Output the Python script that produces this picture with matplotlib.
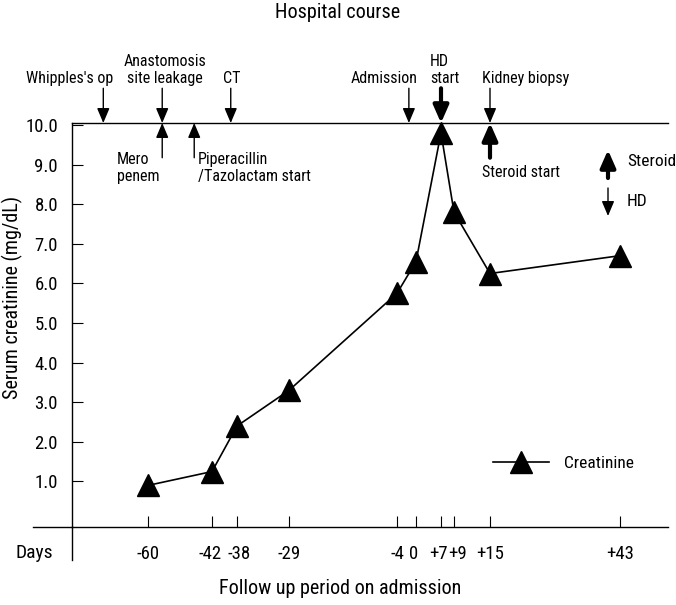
import numpy as np
import matplotlib
matplotlib.use('Agg')
import matplotlib.pyplot as plt
from matplotlib.lines import Line2D
from matplotlib.transforms import ScaledTranslation

plt.rcParams['font.family'] = ['Liberation Sans Narrow', 'Roboto Condensed', 'Roboto', 'DejaVu Sans']
plt.rcParams['font.stretch'] = 'condensed'

# ---------------- data ----------------
days = [-60, -42, -38, -29, -4, 0, 7, 9, 15, 43]
creatinine = [0.9, 1.25, 2.4, 3.3, 5.75, 6.55, 9.8, 7.8, 6.25, 6.7]
day_labels = ['-60', '-42', '-38', '-29', '-4', '0', '+7', '+9', '+15', '+43']
y_ticks = [1.0, 2.0, 3.0, 4.0, 5.0, 6.0, 7.0, 8.0, 9.0, 10.0]
y_tick_labels = ['1.0', '2.0', '3.0', '4.0', '5.0', '6.0', '7.0', '8.0', '9.0', '10.0']

events_above = ["Whipples's op", 'Anastomosis\nsite leakage', 'CT', 'Admission', 'HD\nstart', 'Kidney biopsy']
events_above_days = [-70, -56, -39, -1.5, 7, 15]
events_below = ['Mero\npenem', 'Piperacillin\n/Tazolactam start', 'Steroid start']
events_below_days = [-56, -47, 15]

# ---------------- layout ----------------
W, H = 676, 605
fig = plt.figure(figsize=(W / 100, H / 100), dpi=100)


def fp(x, y):
    return (x / W, 1 - y / H)


ax_l, ax_r, ax_t, ax_b = 72, 668, 123, 527
ax = fig.add_axes([ax_l / W, 1 - ax_b / H, (ax_r - ax_l) / W, (ax_b - ax_t) / H])

# non-linear (broken) day axis
anchor_days = [-77, -60, -42, -38, -29, -4, 0, 7, 9, 15, 43, 53.3]
anchor_pos = [0, 76, 140, 165, 217, 325, 344, 369, 382, 418, 548, 596]


def fwd(x):
    return np.interp(x, anchor_days, anchor_pos)


def inv(p):
    return np.interp(p, anchor_pos, anchor_days)


ax.set_xscale('function', functions=(fwd, inv))
ax.set_xlim(anchor_days[0], anchor_days[-1])
ax.set_ylim(-0.15, 10.05)

line, = ax.plot(days, creatinine, color='black', lw=1.2, marker='^', ms=16,
                markerfacecolor='black', markeredgecolor='black', clip_on=False,
                label='Creatinine', zorder=5)

ax.set_xticks(days)
ax.set_xticklabels(day_labels)
ax.set_yticks(y_ticks)
ax.set_yticklabels(y_tick_labels)
ax.xaxis.set_minor_locator(matplotlib.ticker.NullLocator())
ax.tick_params(axis='both', direction='in', length=8, width=0.8, labelsize=13.5)
ax.tick_params(axis='y', pad=10)
ax.tick_params(axis='x', pad=13)

# nudge crowded day labels apart (pixels)
label_nudge = {'-42': -2, '-38': 2, '0': -2, '+7': -3, '+9': 4}
for lbl in ax.get_xticklabels():
    dx = label_nudge.get(lbl.get_text(), 0)
    if dx:
        lbl.set_transform(lbl.get_transform() + ScaledTranslation(dx / 100, 0, fig.dpi_scale_trans))

for s in ['top', 'left', 'bottom']:
    ax.spines[s].set_linewidth(1.0)
ax.spines['right'].set_visible(False)

# axis extensions
fig.add_artist(Line2D([33 / W, ax_l / W], [1 - ax_b / H] * 2, color='black', lw=1.0))
fig.add_artist(Line2D([ax_l / W] * 2, [1 - ax_b / H, 1 - 560 / H], color='black', lw=1.0))

fig.text(*fp(338, 13), 'Hospital course', ha='center', va='center', fontsize=14.5)
fig.text(*fp(340, 588), 'Follow up period on admission', ha='center', va='center', fontsize=14.5)
fig.text(*fp(34, 553), 'Days', ha='center', va='center', fontsize=14)
fig.text(*fp(12, 297), 'Serum creatinine (mg/dL)', ha='center', va='center',
         rotation=90, fontsize=14.5)

trans = ax.get_xaxis_transform()
thin = dict(arrowstyle='-|>,head_length=0.9,head_width=0.38', lw=1.0, color='black',
            shrinkA=0, shrinkB=0, mutation_scale=10)
thick = dict(arrowstyle='-|>,head_length=0.75,head_width=0.33', lw=3.0, color='black',
             shrinkA=0, shrinkB=0, mutation_scale=14)

# events above the top line (down arrows)
above_text_pos = [(70, 'center'), (165, 'center'), (232, 'center'), (384, 'center'),
                  (430, 'left'), (526, 'center')]
for lab, d, (tx, ha) in zip(events_above, events_above_days, above_text_pos):
    style = thick if lab.startswith('HD') else thin
    ax.annotate('', xy=(d, 1), xycoords=trans, xytext=(0, 25), textcoords='offset points',
                arrowprops=style, annotation_clip=False)
    fig.text(*fp(tx, 86), lab, ha=ha, va='bottom', fontsize=11.5, linespacing=1.15)

# events below the top line (up arrows)
below_text_pos = [(117, 168, 'left'), (198, 168, 'left'), (521, 172, 'center')]
for lab, d, (tx, ty, ha) in zip(events_below, events_below_days, below_text_pos):
    style = thick if lab.startswith('Steroid') else thin
    ax.annotate('', xy=(d, 1), xycoords=trans, xytext=(0, -25), textcoords='offset points',
                arrowprops=style, annotation_clip=False)
    fig.text(*fp(tx, ty), lab, ha=ha, va='center', fontsize=11.5, linespacing=1.15)

# arrow key
ax.annotate('', xy=fp(608, 150), xycoords='figure fraction', xytext=fp(608, 178),
            textcoords='figure fraction', arrowprops=thick)
fig.text(*fp(627, 162), 'Steroid', ha='left', va='center', fontsize=12.5)
ax.annotate('', xy=fp(608, 216), xycoords='figure fraction', xytext=fp(608, 188),
            textcoords='figure fraction', arrowprops=thin)
fig.text(*fp(627, 201), 'HD', ha='left', va='center', fontsize=12.5)

ax.legend(handles=[line], loc='center left',
          bbox_to_anchor=((493 - ax_l) / (ax_r - ax_l), (ax_b - 463) / (ax_b - ax_t)),
          frameon=False, fontsize=12.5, handlelength=3.2, handletextpad=0.9,
          borderpad=0, borderaxespad=0, numpoints=1)

fig.savefig('out.png', dpi=100)
